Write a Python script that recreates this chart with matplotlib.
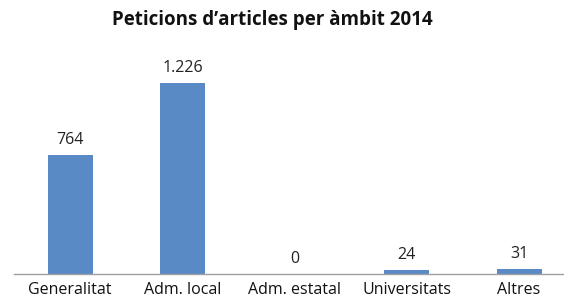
import matplotlib
matplotlib.use("Agg")
import matplotlib.pyplot as plt

categories = ["Generalitat", "Adm. local", "Adm. estatal", "Universitats", "Altres"]
values = [764, 1226, 0, 24, 31]
value_labels = ["764", "1.226", "0", "24", "31"]

BAR = "#5A8AC6"

plt.rcParams["font.family"] = ["Open Sans", "DejaVu Sans"]

fig = plt.figure(figsize=(5.64, 3.02), dpi=100)
ax = fig.add_axes([14 / 564, 28 / 302, 550 / 564, 218 / 302])

x = range(len(categories))
ax.bar(x, values, width=0.4, color=BAR)
for xi, v, lab in zip(x, values, value_labels):
    ax.annotate(lab, (xi, v), xytext=(0, 5), textcoords="offset points",
                ha="center", va="bottom", fontsize=11.5, color="#222222")

ax.set_xlim(-0.5, 4.4)
ax.set_ylim(0, 1400)
ax.set_xticks(list(x))
ax.set_xticklabels(categories, fontsize=11.5, color="#111111")
ax.tick_params(axis="x", length=0, pad=6)
ax.set_yticks([])
for s in ("top", "right", "left"):
    ax.spines[s].set_visible(False)
ax.spines["bottom"].set_color("#A0A0A0")
ax.spines["bottom"].set_linewidth(1)

fig.text(0.483, 0.934, "Peticions d\u2019articles per \u00e0mbit 2014", ha="center", va="center",
         fontsize=13.5, fontweight="bold", color="#111111")

fig.savefig("out.png", dpi=100)
